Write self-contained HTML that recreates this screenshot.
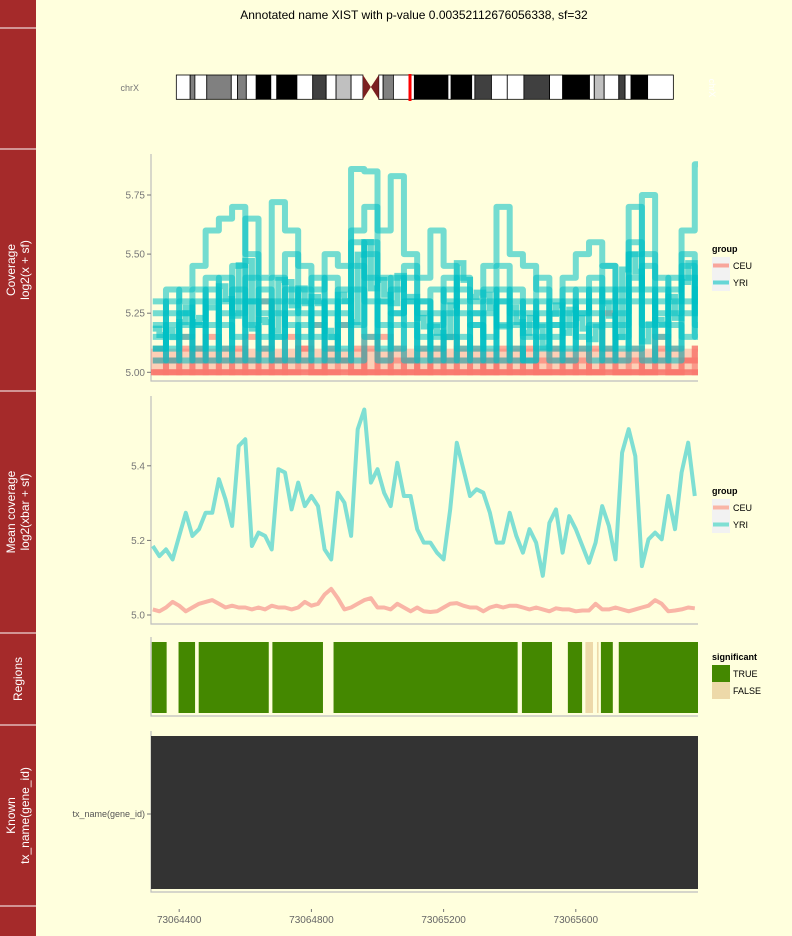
<!DOCTYPE html>
<html><head><meta charset="utf-8">
<style>
body{margin:0;background:#FFFFDD;}
svg{display:block;font-family:"Liberation Sans",sans-serif;}
</style></head>
<body>
<svg id="chart" width="792" height="936" viewBox="0 0 792 936">
<rect x="0" y="0" width="792" height="936" fill="#FFFFDD"/>
<text x="414" y="19" text-anchor="middle" font-size="12" fill="#000">Annotated name XIST with p-value 0.00352112676056338, sf=32</text>
<g id="strips"></g>
<g id="ideo"></g>
<g id="cov"></g>
<g id="mean"></g>
<g id="regions"></g>
<g id="known"></g>
<g id="xaxis"></g>
<g id="legends"></g>
</svg>
<script>
// ---- data ----
const xTicks = [73064400, 73064800, 73065200, 73065600];
const meanStart = 73064320, meanStep = 20;
const yriMean = [5.185,5.158,5.176,5.149,5.212,5.274,5.212,5.230,5.274,5.274,5.364,5.310,5.239,5.453,5.471,5.185,5.221,5.212,5.176,5.391,5.382,5.283,5.355,5.292,5.319,5.292,5.176,5.149,5.328,5.301,5.212,5.498,5.551,5.355,5.391,5.328,5.292,5.408,5.319,5.319,5.230,5.194,5.194,5.167,5.149,5.283,5.462,5.391,5.319,5.337,5.328,5.274,5.194,5.194,5.274,5.212,5.167,5.230,5.194,5.105,5.247,5.283,5.167,5.265,5.230,5.185,5.140,5.194,5.292,5.239,5.149,5.435,5.498,5.426,5.131,5.203,5.221,5.203,5.319,5.230,5.382,5.462,5.319];
const ceuMean = [5.015,5.01,5.02,5.035,5.025,5.01,5.02,5.03,5.035,5.04,5.03,5.02,5.025,5.02,5.02,5.015,5.02,5.015,5.025,5.02,5.02,5.015,5.02,5.035,5.025,5.03,5.055,5.07,5.045,5.015,5.02,5.03,5.04,5.045,5.02,5.02,5.015,5.03,5.02,5.01,5.02,5.01,5.008,5.01,5.02,5.03,5.032,5.025,5.02,5.02,5.01,5.02,5.025,5.02,5.025,5.025,5.02,5.015,5.02,5.015,5.01,5.018,5.015,5.015,5.01,5.012,5.012,5.03,5.015,5.015,5.02,5.015,5.01,5.015,5.02,5.025,5.04,5.03,5.01,5.012,5.015,5.02,5.018];
const covStart = 73064320, covStep = 40;
const yriA = [5.25,5.3,5.35,5.45,5.6,5.65,5.7,5.5,5.4,5.72,5.6,5.45,5.35,5.5,5.45,5.86,5.85,5.6,5.83,5.5,5.4,5.6,5.45,5.35,5.3,5.45,5.7,5.5,5.45,5.35,5.25,5.4,5.5,5.55,5.45,5.3,5.5,5.75,5.4,5.3,5.6,5.88];
const yriB = [5.1,5.2,5.15,5.3,5.2,5.4,5.15,5.65,5.1,5.3,5.5,5.25,5.15,5.4,5.1,5.6,5.7,5.3,5.4,5.2,5.1,5.35,5.3,5.15,5.1,5.25,5.45,5.2,5.15,5.1,5.2,5.35,5.15,5.3,5.45,5.1,5.7,5.35,5.15,5.4,5.3,5.2];
const yriC = [5.05,5.15,5.3,5.1,5.35,5.05,5.3,5.2,5.05,5.4,5.2,5.05,5.3,5.15,5.05,5.45,5.3,5.1,5.35,5.4,5.05,5.25,5.15,5.05,5.2,5.05,5.3,5.1,5.05,5.25,5.1,5.2,5.35,5.05,5.2,5.05,5.35,5.5,5.05,5.25,5.4,5.15];
const yriD = [5.2,5.1,5.25,5.2,5.1,5.3,5.25,5.4,5.3,5.15,5.35,5.3,5.2,5.25,5.35,5.2,5.5,5.4,5.25,5.3,5.15,5.2,5.4,5.25,5.2,5.15,5.3,5.35,5.25,5.2,5.15,5.3,5.25,5.4,5.3,5.2,5.55,5.3,5.25,5.35,5.5,5.3];
const yriE = [5.15,5.25,5.05,5.2,5.3,5.1,5.45,5.05,5.35,5.15,5.25,5.35,5.05,5.3,5.2,5.55,5.4,5.05,5.25,5.45,5.3,5.1,5.25,5.4,5.05,5.3,5.2,5.05,5.3,5.15,5.3,5.05,5.25,5.35,5.1,5.25,5.4,5.2,5.3,5.1,5.45,5.25];
const yriF = [5.3,5.05,5.2,5.35,5.05,5.25,5.35,5.3,5.15,5.25,5.05,5.2,5.25,5.05,5.3,5.35,5.15,5.3,5.2,5.05,5.3,5.15,5.05,5.3,5.25,5.1,5.35,5.25,5.05,5.3,5.05,5.25,5.1,5.2,5.35,5.15,5.3,5.05,5.35,5.2,5.15,5.35];
const yriG = [5.1,5.35,5.25,5.05,5.4,5.2,5.05,5.3,5.25,5.05,5.3,5.15,5.4,5.1,5.25,5.05,5.55,5.2,5.1,5.3,5.25,5.05,5.35,5.1,5.25,5.35,5.05,5.3,5.2,5.4,5.2,5.1,5.3,5.25,5.05,5.35,5.1,5.45,5.2,5.05,5.25,5.4];
const ceuE = [5.0,5.05,5.0,5.1,5.0,5.05,5.0,5.15,5.0,5.05,5.0,5.1,5.0,5.05,5.2,5.0,5.1,5.0,5.05,5.0,5.1,5.0,5.15,5.0,5.05,5.0,5.1,5.0,5.05,5.0,5.0,5.05,5.0,5.1,5.25,5.0,5.05,5.0,5.1,5.0,5.05,5.1];
const ceuF = [5.05,5.0,5.1,5.05,5.15,5.0,5.1,5.05,5.3,5.0,5.05,5.1,5.2,5.0,5.05,5.1,5.0,5.15,5.0,5.05,5.0,5.05,5.0,5.1,5.0,5.05,5.0,5.05,5.1,5.0,5.05,5.0,5.1,5.0,5.05,5.0,5.0,5.05,5.15,5.0,5.05,5.0];
const ceuG = [5.1,5.05,5.15,5.0,5.05,5.1,5.05,5.0,5.1,5.05,5.15,5.05,5.0,5.1,5.05,5.0,5.15,5.05,5.1,5.05,5.0,5.1,5.05,5.05,5.1,5.0,5.05,5.1,5.0,5.05,5.1,5.05,5.05,5.0,5.1,5.05,5.1,5.0,5.05,5.1,5.05,5.1];
const regionStarts = [73064317,73064398,73064459,73064682,73064867,73065437,73065576,73065629,73065664,73065676,73065730];
const regionEnds   = [73064362,73064448,73064671,73064835,73065424,73065528,73065619,73065652,73065669,73065712,73065970];
const regionSig    = [true,true,true,true,true,true,true,false,false,true,true];
const covTicks = [5.00,5.25,5.50,5.75];
const meanTicks = [5.0,5.2,5.4];

// ---- scales ----
const NS='http://www.w3.org/2000/svg';
function mk(tag, attrs, parent){const e=document.createElementNS(NS,tag);for(const k in attrs)e.setAttribute(k,attrs[k]);parent.appendChild(e);return e;}
const X = bp => 179.2 + (bp - 73064400) * 0.3305;
const Ycov = v => 372.3 - (v - 5) * 236.4;
const Ymean = v => 615 - (v - 5) * 373;
const PL=151, PR=698;

// ---- strips ----
const strips=document.getElementById('strips');
const stripDefs=[[28,149,[]],[149,391,['Coverage','log2(x + sf)']],[391,633,['Mean coverage','log2(xbar + sf)']],[633,725,['Regions']],[725,906,['Known','tx_name(gene_id)']]];
let r=mk('rect',{x:0,y:0,width:36,height:936,fill:'#A52A2A'},strips);

[28,149,391,633,725,906].forEach(y=>{const l=mk('line',{x1:0,x2:36,y1:y,y2:y,stroke:'#fff','stroke-width':1},strips);});
stripDefs.forEach(d=>{const cy=(d[0]+d[1])/2;const n=d[2].length;d[2].forEach((t,i)=>{const cx=18+(i-(n-1)/2)*14+4;const tx=mk('text',{x:cx,y:cy,'text-anchor':'middle','font-size':12,fill:'#fff',transform:`rotate(-90 ${cx} ${cy})`},strips);tx.textContent=t;});});

// ---- ideogram ----
const ideo=document.getElementById('ideo');
const bands=[[193,228,'#fff'],[228,240,'#808080'],[240,270,'#fff'],[270,332,'#808080'],[332,348,'#fff'],[348,370,'#808080'],[370,395,'#fff'],[395,432,'#000'],[432,447,'#fff'],[447,498,'#000'],[498,538,'#fff'],[538,572,'#404040'],[572,597,'#fff'],[597,635,'#c0c0c0'],[635,665,'#fff'],[705,716,'#fff'],[716,742,'#808080'],[742,795,'#fff'],[795,880,'#000'],[880,888,'#fff'],[888,940,'#000'],[940,948,'#fff'],[948,990,'#404040'],[990,1030,'#fff'],[1030,1072,'#fff'],[1072,1137,'#404040'],[1137,1170,'#fff'],[1170,1238,'#000'],[1238,1250,'#fff'],[1250,1275,'#c0c0c0'],[1275,1312,'#fff'],[1312,1328,'#404040'],[1328,1343,'#fff'],[1343,1385,'#000'],[1385,1450,'#fff']];
const ix=p=>100+p/2.529;
bands.forEach(b=>{const e=mk('rect',{x:ix(b[0]),y:75,width:ix(b[1])-ix(b[0]),height:24.3,fill:b[2],stroke:'#000','stroke-width':0.8},ideo);});
const c1=ix(665),c2=ix(705),cm=(c1+c2)/2;
let cen=mk('polygon',{points:`${c1},75 ${cm},87 ${c1},99.3`,fill:'#7B2020'},ideo);

let cen2=mk('polygon',{points:`${c2},75 ${cm},87 ${c2},99.3`,fill:'#7B2020'},ideo);

let red=mk('rect',{x:ix(784)-1.5,y:74,width:3,height:27,fill:'#ff0000'},ideo);

let chrl=mk('text',{x:139,y:91,'text-anchor':'end','font-size':9,fill:'#777'},ideo);chrl.textContent='chrX';

let chr2=mk('text',{x:709,y:88,'text-anchor':'middle','font-size':9,fill:'#fff',transform:'rotate(90 709 88)'},ideo);chr2.textContent='chrX';


// ---- helpers ----
function frame(g,top,bottom,name){const l=mk('path',{d:`M${PL} ${top}V${bottom}H${PR}`,stroke:'#BEBEBE','stroke-width':1.2,fill:'none'},g);}
function yaxis(g,ticks,Y,fmt,name){ticks.forEach(t=>{const y=Y(t);const tk=mk('line',{x1:PL-4,x2:PL,y1:y,y2:y,stroke:'#777'},g);const tx=mk('text',{x:PL-6,y:y+3.5,'text-anchor':'end','font-size':10,fill:'#777'},g);tx.textContent=fmt(t);});}
function stepPath(vals,start,step,Y){let d='';vals.forEach((v,i)=>{const x0=Math.max(PL,X(start+i*step)),x1=Math.min(PR,X(start+(i+1)*step));const y=Y(v);d+=(i===0?`M${x0} ${y}`:`V${y}`)+`H${x1}`;});return d;}
function linePath(vals,start,step,Y){return vals.map((v,i)=>(i?'L':'M')+X(start+i*step).toFixed(1)+' '+Y(v).toFixed(1)).join('');}

// ---- coverage ----
const cov=document.getElementById('cov');
frame(cov,154,381,'coverage-axes');
yaxis(cov,covTicks,Ycov,t=>t.toFixed(2),'coverage-y');
let band=mk('rect',{x:PL,y:Ycov(5.1),width:PR-PL,height:Ycov(5.0)-Ycov(5.1),fill:'#F8766D',opacity:0.35},cov);

let base=mk('rect',{x:PL,y:Ycov(5.0)-3,width:PR-PL,height:6,fill:'#F8766D',opacity:0.9},cov);

[ceuE,ceuF,ceuG].forEach(s=>{const p=mk('path',{d:stepPath(s,covStart,covStep,Ycov),stroke:'#F8766D','stroke-width':6,fill:'none',opacity:0.6},cov);});
[yriA,yriB,yriC,yriD,yriE,yriF,yriG].forEach(s=>{const p=mk('path',{d:stepPath(s,covStart,covStep,Ycov),stroke:'#00BFC4','stroke-width':6,fill:'none',opacity:0.55,'stroke-linejoin':'round'},cov);});
let ym=mk('path',{d:stepPath(yriMean,meanStart,meanStep,Ycov),stroke:'#00BFC4','stroke-width':6,fill:'none',opacity:0.6},cov);


// ---- mean coverage ----
const mean=document.getElementById('mean');
frame(mean,396,624,'mean-axes');
yaxis(mean,meanTicks,Ymean,t=>t.toFixed(1),'mean-y');
let mc=mk('path',{d:linePath(ceuMean,meanStart,meanStep,Ymean),stroke:'#F9B5A6','stroke-width':4,fill:'none','stroke-linejoin':'round'},mean);

let my=mk('path',{d:linePath(yriMean,meanStart,meanStep,Ymean),stroke:'#7FDFD3','stroke-width':4,fill:'none','stroke-linejoin':'round'},mean);


// ---- regions ----
const reg=document.getElementById('regions');
frame(reg,637,716,'regions-axes');
regionStarts.forEach((s,i)=>{const x0=Math.max(PL,X(s)),x1=Math.min(PR,X(regionEnds[i]));const e=mk('rect',{x:x0,y:642,width:x1-x0,height:71,fill:regionSig[i]?'#448800':'#EDD9A9'},reg);});

// ---- known ----
const kn=document.getElementById('known');
frame(kn,731,892,'known-axes');
let kr=mk('rect',{x:PL,y:736,width:PR-PL,height:153,fill:'#333333'},kn);

let kt=mk('line',{x1:PL-4,x2:PL,y1:814,y2:814,stroke:'#777'},kn);
let kl=mk('text',{x:PL-6,y:817,'text-anchor':'end','font-size':9,fill:'#555'},kn);kl.textContent='tx_name(gene_id)';


// ---- x axis ----
const xa=document.getElementById('xaxis');
xTicks.forEach(t=>{const x=X(t);const tk=mk('line',{x1:x,x2:x,y1:909,y2:912,stroke:'#777'},xa);const tx=mk('text',{x:x,y:923,'text-anchor':'middle','font-size':10,fill:'#666'},xa);tx.textContent=String(t);});

// ---- legends ----
const lg=document.getElementById('legends');
function legend(y,title,items){const t=mk('text',{x:712,y:y,'font-size':9,'font-weight':'bold',fill:'#000'},lg);t.textContent=title;
items.forEach((it,i)=>{const yy=y+5+i*17;const b=mk('rect',{x:712,y:yy,width:18,height:17,fill:it.bg||'#F2F2F2'},lg);if(it.line){const l=mk('line',{x1:713,x2:729,y1:yy+8.5,y2:yy+8.5,stroke:it.line,'stroke-width':4},lg);}
const tx=mk('text',{x:733,y:yy+12,'font-size':9,fill:'#000'},lg);tx.textContent=it.label;});}
legend(252,'group',[{label:'CEU',line:'#F8A59C'},{label:'YRI',line:'#66D6D6'}]);
legend(494,'group',[{label:'CEU',line:'#F9B5A6'},{label:'YRI',line:'#7FDFD3'}]);
legend(660,'significant',[{label:'TRUE',bg:'#448800'},{label:'FALSE',bg:'#EDD9A9'}]);
</script>
</body></html>
